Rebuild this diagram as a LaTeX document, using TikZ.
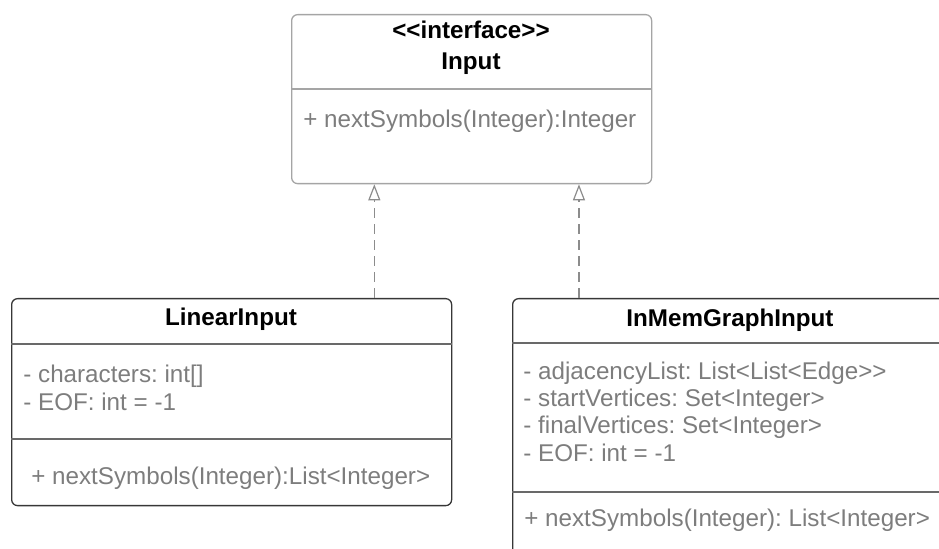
\documentclass[tikz,border=0pt]{standalone}
\usepackage{fontspec}
\setmainfont{Liberation Sans}
\usetikzlibrary{arrows.meta}
\frenchspacing

\definecolor{txtgray}{RGB}{125,125,125}
\definecolor{ifaceline}{RGB}{165,165,165}
\definecolor{boxline}{RGB}{55,55,55}
\definecolor{sepline}{RGB}{105,105,105}
\definecolor{linkgray}{RGB}{140,140,140}

% plain angle brackets, kept apart so they do not merge into guillemets
\newcommand{\ltlt}{<\kern0pt<}
\newcommand{\gtgt}{>\kern0pt>}

\tikzset{
  classbox/.style={draw=boxline, line width=0.65pt, rounded corners=3pt,
    anchor=north west, inner sep=0pt},
  ifacebox/.style={classbox, draw=ifaceline},
  sep/.style={draw=sepline, line width=0.6pt},
  ifsep/.style={draw=ifaceline, line width=0.6pt},
  title/.style={anchor=base, inner sep=0pt, font=\fontsize{12.1}{14}\selectfont\bfseries},
  member/.style={anchor=base west, inner sep=0pt, text=txtgray,
    font=\fontsize{12.1}{14}\selectfont\frenchspacing},
  realize/.style={draw=linkgray, line width=0.6pt, dash pattern=on 5pt off 3pt,
    -{Triangle[open, length=8pt, width=6pt, line width=0.6pt]}},
}

\begin{document}
\begin{tikzpicture}[x=0.5pt, y=-0.5pt]
  \useasboundingbox (0,0) rectangle (939,549);
  \clip (0,0) rectangle (939,549);

  % interface Input
  \node[ifacebox, minimum width=180pt, minimum height=84.5pt] (input) at (291,14) {};
  \draw[ifsep] (input.west |- 0,89) -- (input.east |- 0,89);
  \node[title] (inputstereo) at (471,39) {\ltlt interface\gtgt};
  \node[title] (inputname) at (471,70) {Input};
  \node[member] (inputop) at (303,128) {+ nextSymbols(Integer):Integer};

  % class LinearInput
  \node[classbox, minimum width=220pt, minimum height=103.5pt] (linear) at (11,298) {};
  \draw[sep] (linear.west |- 0,344) -- (linear.east |- 0,344);
  \draw[sep] (linear.west |- 0,439) -- (linear.east |- 0,439);
  \node[title] (linearname) at (231,326) {LinearInput};
  \node[member] (linearA) at (23,383) {- characters: int[]};
  \node[member] (linearB) at (23,411) {- EOF: int = -1};
  \node[member] (linearop) at (31,485) {+ nextSymbols(Integer):List<Integer>};

  % class InMemGraphInput
  \node[classbox, minimum width=218pt, minimum height=140pt] (graph) at (512,298) {};
  \draw[sep] (graph.west |- 0,343) -- (graph.east |- 0,343);
  \draw[sep] (graph.west |- 0,492) -- (graph.east |- 0,492);
  \node[title] (graphname) at (730,327) {InMemGraphInput};
  \node[member] (graphA) at (523,380) {- adjacencyList: List<List<Edge\gtgt};
  \node[member] (graphB) at (523,407) {- startVertices: Set<Integer>};
  \node[member] (graphC) at (523,434) {- finalVertices: Set<Integer>};
  \node[member] (graphD) at (523,462) {- EOF: int = -1};
  \node[member] (graphop) at (524,527) {+ nextSymbols(Integer): List<Integer>};

  % realization links
  \path (input.south west) -- (input.south east)
    coordinate[pos=0.2306] (tipL) coordinate[pos=0.797] (tipR);
  \draw[realize] (tipL |- linear.north) -- (tipL);
  \draw[realize] (tipR |- graph.north) -- (tipR);
\end{tikzpicture}
\end{document}
